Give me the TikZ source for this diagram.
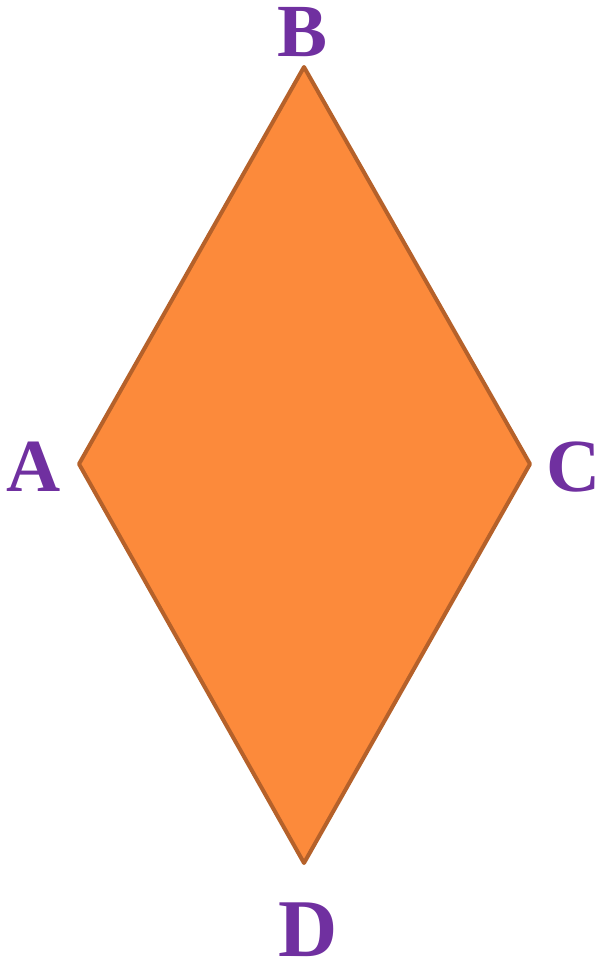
\documentclass[tikz,border=0pt]{standalone}
\usepackage{fontspec}
\setmainfont{Liberation Serif}
\definecolor{rhfill}{HTML}{FC8A3B}
\definecolor{rhline}{HTML}{B5612A}
\definecolor{lblpurple}{HTML}{7030A0}
\begin{document}
\begin{tikzpicture}[x=1pt,y=-1pt,
  lbl/.style={inner sep=0pt,text=lblpurple,font=\fontsize{75}{75}\selectfont\bfseries}]
\useasboundingbox (0,0) rectangle (602,962);
\coordinate (vB) at (304,67);
\coordinate (vA) at (79,464);
\coordinate (vC) at (530,464);
\coordinate (vD) at (304,863);
\draw[fill=rhfill,draw=rhline,line width=4pt,line join=round] (vB) -- (vC) -- (vD) -- (vA) -- cycle;
\node[lbl] (B) at (303,32) {B};
\node[lbl] (A) at (34,467) {A};
\node[lbl] (C) at (574,467) {C};
\node[lbl,font=\fontsize{82}{82}\selectfont\bfseries] (D) at (308.5,930) {D};
\end{tikzpicture}
\end{document}
